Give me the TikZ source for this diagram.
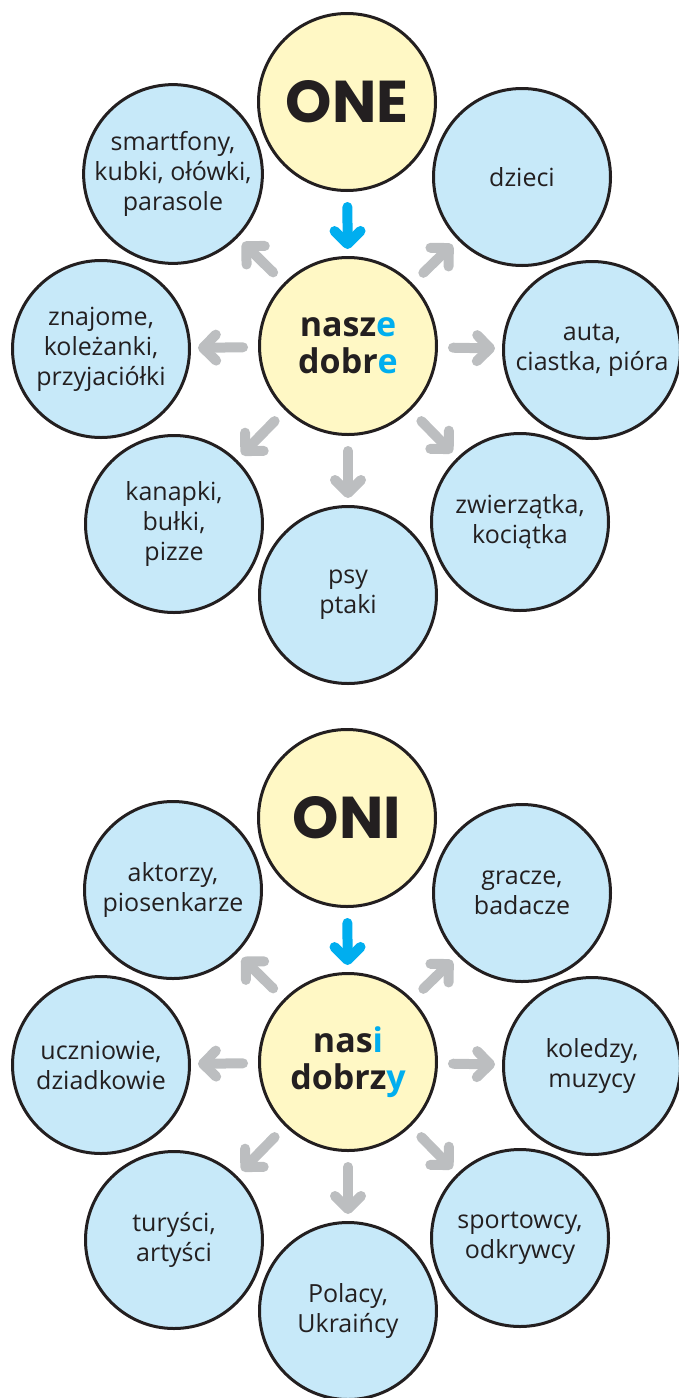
\documentclass[tikz,border=0pt]{standalone}
\usepackage{fontspec}
\setmainfont{Open Sans}
\newfontfamily\headfont{Poppins}
\usetikzlibrary{arrows.meta}
\definecolor{cyel}{HTML}{FFF8C5}
\definecolor{clb}{HTML}{C7E9F9}
\definecolor{cblue}{HTML}{00AEEF}
\definecolor{cgray}{HTML}{BCBEC0}
\definecolor{ctext}{HTML}{231F20}
\tikzset{
 bub/.style={circle, draw=ctext, line width=3pt, minimum size=177pt, inner sep=0pt, align=center, text=ctext, font=\fontsize{25}{30}\selectfont},
 outerb/.style={bub, fill=clb},
 core/.style={bub, fill=cyel, font=\bfseries\fontsize{34}{37}\selectfont},
 headb/.style={bub, fill=cyel, font=\headfont\bfseries\fontsize{59}{60}\selectfont},
 arr/.style={line width=10pt, line cap=round, shorten <=15pt, shorten >=7pt, -{Straight Barb[length=13pt,width=26pt,round]}},
 garr/.style={arr, draw=cgray},
 barr/.style={arr, draw=cblue},
}
\begin{document}
\begin{tikzpicture}[x=1pt,y=-1pt]
\useasboundingbox (0,0) rectangle (679,1398);
% top diagram
\node[headb] (one) at (347,102) {ONE};
\node[core] (c1) at (348,346) {nasz{\color{cblue}e}\\dobr{\color{cblue}e}};
\node[outerb] (a1) at (173,174) {smartfony,\\kubki, ołówki,\\parasole};
\node[outerb] (a2) at (522,177) {dzieci};
\node[outerb] (a3) at (101,349) {znajome,\\koleżanki,\\przyjaciółki};
\node[outerb] (a4) at (592,350) {auta,\\ciastka, pióra};
\node[outerb] (a5) at (174,524) {kanapki,\\bułki,\\pizze};
\node[outerb] (a6) at (520,522) {zwierzątka,\\kociątka};
\node[outerb] (a7) at (348,595) {psy\\ptaki};
\draw[barr] (one) -- (c1);
\foreach \t in {a1,a2,a3,a4,a5,a6,a7} \draw[garr] (c1) -- (\t);
% bottom diagram
\begin{scope}[shift={(0,716)}]
\node[headb] (oni) at (347,102) {ONI};
\node[core] (c2) at (348,346) {nas{\color{cblue}i}\\dobrz{\color{cblue}y}};
\node[outerb] (b1) at (173,174) {aktorzy,\\piosenkarze};
\node[outerb] (b2) at (522,177) {gracze,\\badacze};
\node[outerb] (b3) at (101,349) {uczniowie,\\dziadkowie};
\node[outerb] (b4) at (592,350) {koledzy,\\muzycy};
\node[outerb] (b5) at (174,524) {turyści,\\artyści};
\node[outerb] (b6) at (520,522) {sportowcy,\\odkrywcy};
\node[outerb] (b7) at (348,595) {Polacy,\\Ukraińcy};
\draw[barr] (oni) -- (c2);
\foreach \t in {b1,b2,b3,b4,b5,b6,b7} \draw[garr] (c2) -- (\t);
\end{scope}
\end{tikzpicture}
\end{document}
